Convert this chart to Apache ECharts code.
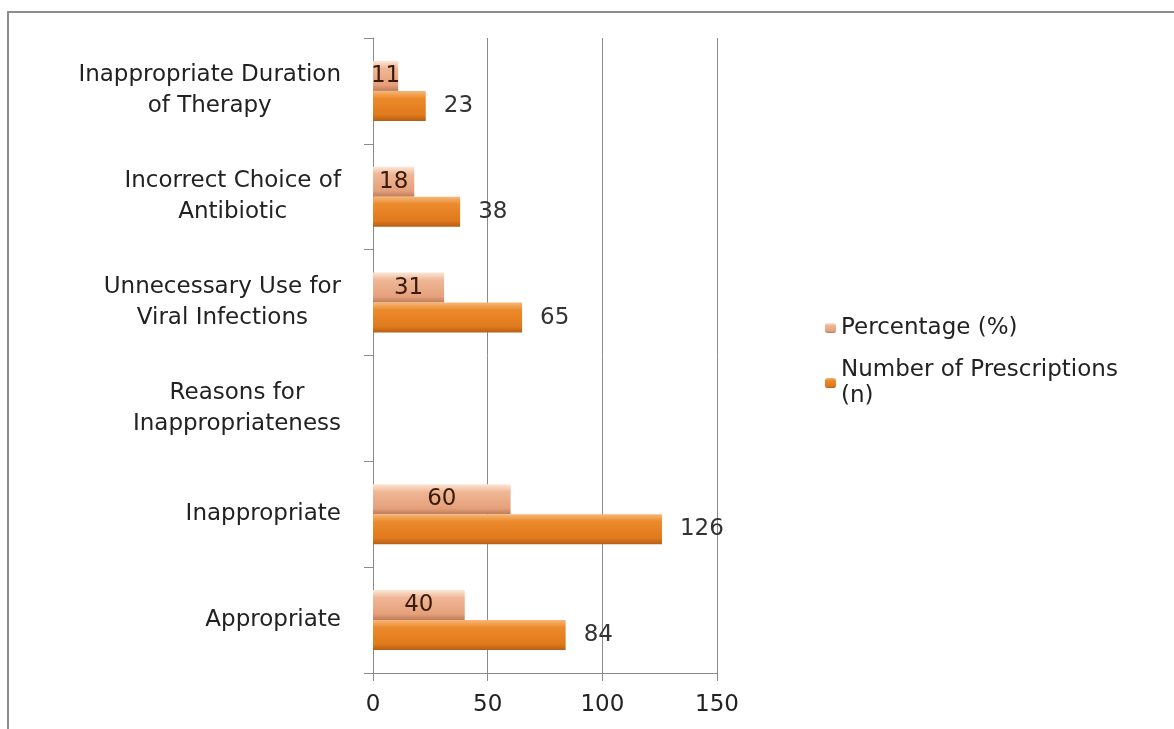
<!DOCTYPE html>
<html>
<head>
<meta charset="utf-8">
<script src="https://cdn.jsdelivr.net/npm/echarts@6/dist/echarts.min.js"></script>
<style>
  html, body { margin: 0; padding: 0; background: #fff; }
  #chart { width: 1174px; height: 729px; }
</style>
</head>
<body>
<div id="chart"></div>
<script>
// categories from bottom to top, as drawn
var categories = [
    'Appropriate',
    'Inappropriate',
    'Reasons for\nInappropriateness',
    'Unnecessary Use for\nViral Infections',
    'Incorrect Choice of\nAntibiotic',
    'Inappropriate Duration\nof Therapy'
];
var countValues = [84, 126, null, 65, 38, 23];
var percentValues = [40, 60, null, 31, 18, 11];
var xTicks = [0, 50, 100, 150];

var font = 'DejaVu Sans';
var fs = 23;

var myChart = echarts.init(document.getElementById('chart'));

var option = {
    backgroundColor: '#fff',
    animation: false,
    graphic: [{
        type: 'rect',
        shape: { x: 8, y: 12, width: 1300, height: 900 },
        style: { fill: 'none', stroke: '#8c8c8c', lineWidth: 2 },
        silent: true
    }],
    legend: {
        orient: 'vertical',
        left: 820,
        top: 310,
        itemWidth: 11,
        itemHeight: 10,
        itemGap: 16,
        data: ['Percentage (%)', 'Number of Prescriptions\n(n)'],
        textStyle: { fontFamily: font, fontSize: fs, color: '#222', lineHeight: 26 }
    },
    grid: {
        left: 373,
        right: 457,
        top: 38,
        bottom: 56
    },
    xAxis: {
        type: 'value',
        min: xTicks[0],
        max: xTicks[xTicks.length - 1],
        interval: 50,
        axisLine: { show: true, lineStyle: { color: '#8a8a8a' } },
        axisTick: { show: true, length: 8, lineStyle: { color: '#8a8a8a' } },
        splitLine: { show: true, lineStyle: { color: '#8a8a8a', width: 1 } },
        axisLabel: { fontFamily: font, fontSize: fs, color: '#222', margin: 21 }
    },
    yAxis: {
        type: 'category',
        data: categories,
        axisLine: { show: true, lineStyle: { color: '#8a8a8a' } },
        axisTick: { show: true, length: 9, lineStyle: { color: '#8a8a8a' } },
        axisLabel: {
            fontFamily: font,
            fontSize: fs,
            color: '#222',
            margin: 32,
            align: 'right',
            formatter: function (v) {
                return v.split('\n').map(function (s) { return '{c|' + s + '}'; }).join('\n');
            },
            rich: {
                c: { align: 'center', fontFamily: font, fontSize: fs, color: '#222', lineHeight: 31 }
            }
        }
    },
    series: [
        {
            name: 'Percentage (%)',
            type: 'bar',
            data: percentValues,
            barWidth: 30,
            barGap: '0%',
            itemStyle: {
                color: new echarts.graphic.LinearGradient(0, 0, 0, 1, [
                    { offset: 0, color: '#fde6d6' },
                    { offset: 0.25, color: '#efb796' },
                    { offset: 0.8, color: '#e5a07b' },
                    { offset: 1, color: '#bd7c5a' }
                ])
            },
            label: {
                show: true,
                position: 'inside',
                fontFamily: font,
                fontSize: fs,
                color: '#3a1a0a'
            }
        },
        {
            name: 'Number of Prescriptions\n(n)',
            type: 'bar',
            data: countValues,
            barWidth: 30,
            itemStyle: {
                color: new echarts.graphic.LinearGradient(0, 0, 0, 1, [
                    { offset: 0, color: '#f7b676' },
                    { offset: 0.25, color: '#eb8a2c' },
                    { offset: 0.8, color: '#e07a1c' },
                    { offset: 1, color: '#b65e16' }
                ])
            },
            label: {
                show: true,
                position: 'right',
                distance: 18,
                fontFamily: font,
                fontSize: fs,
                color: '#333'
            }
        }
    ]
};

myChart.setOption(option);
window.addEventListener('resize', function () {
    myChart.resize();
});
</script>
</body>
</html>
